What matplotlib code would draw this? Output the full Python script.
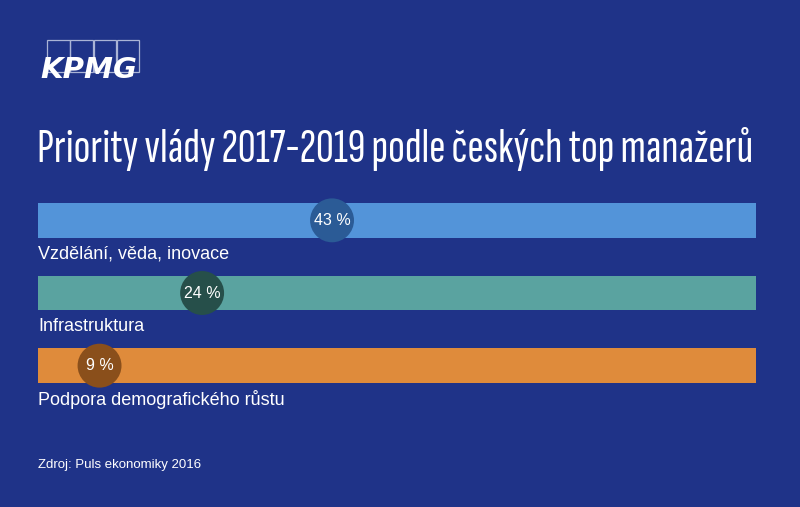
import matplotlib
matplotlib.use("Agg")
import matplotlib.pyplot as plt
from matplotlib.patches import Rectangle

categories = ["Vzdělání, věda, inovace", "Infrastruktura", "Podpora demografického růstu"]
values = [43, 24, 9]
bar_colors = ["#5394d9", "#5aa3a0", "#df8b3b"]
dot_colors = ["#2b5b96", "#264f4a", "#8a4f1b"]
title = "Priority vlády 2017-2019 podle českých top manažerů"
source = "Zdroj: Puls ekonomiky 2016"
bg = "#1f3388"
axis_max = 105

W, H = 800, 507
fig = plt.figure(figsize=(W / 100, H / 100), dpi=100, facecolor=bg)

# KPMG logo
lax = fig.add_axes([0, 0, 1, 1], facecolor="none")
lax.set_xlim(0, W); lax.set_ylim(H, 0); lax.axis("off")
for i in range(4):
    lax.add_patch(Rectangle((47 + i * 23.3, 40), 22.5, 32, fill=False,
                            edgecolor="#aab4d6", linewidth=0.9))
lax.text(40, 78, "KPMG", color="white", fontsize=21, fontweight="bold",
         fontstyle="italic", family="DejaVu Sans", va="baseline", ha="left")

# Title
fig.text(37 / W, 1 - 162 / H, title, color="white", fontsize=35.5,
         family=["Sofia Sans Extra Condensed", "Saira ExtraCondensed", "DejaVu Sans"],
         fontweight=100, va="baseline", ha="left")

# Bars
ax = fig.add_axes([38 / W, 1 - 402 / H, (756 - 38) / W, 218 / H], facecolor="none")
ax.set_xlim(0, axis_max)
ax.set_ylim(2.5, -0.5)
ax.axis("off")
ypos = list(range(len(categories)))
ax.barh(ypos, [axis_max] * len(categories), height=0.48, color=bar_colors, left=0)
ax.scatter(values, ypos, s=1000, c=dot_colors, zorder=3, linewidths=0)
for y, v, cat in zip(ypos, values, categories):
    ax.text(v, y, f"{v} %", color="white", fontsize=11.5, ha="center", va="center",
            family="Liberation Sans", zorder=4)
    ax.text(0, y + 0.46, cat, color="white", fontsize=13, ha="left", va="center",
            family="Liberation Sans")

fig.text(38 / W, 1 - 465 / H, source, color="white", fontsize=9.5,
         family="Liberation Sans", va="center", ha="left")

fig.savefig("out.png", dpi=100, facecolor=bg)
